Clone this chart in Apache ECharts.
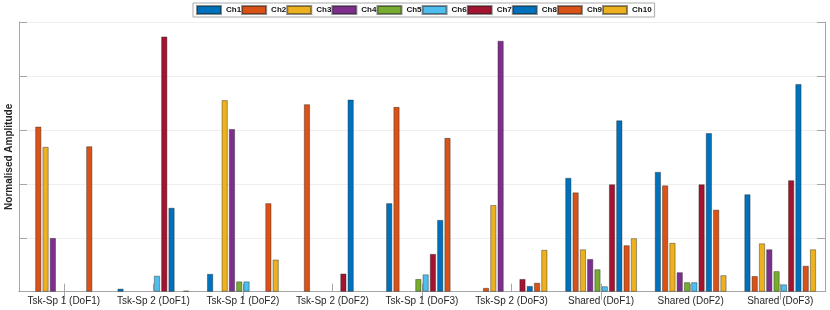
<!DOCTYPE html>
<html>
<head>
<meta charset="utf-8">
<script src="https://cdn.jsdelivr.net/npm/echarts@6/dist/echarts.min.js"></script>
<style>
html,body{margin:0;padding:0;background:#fff;}
#chart{width:830px;height:310px;}
</style>
</head>
<body>
<div id="chart"></div>
<script>
const categories = ['Tsk-Sp 1 (DoF1)','Tsk-Sp 2 (DoF1)','Tsk-Sp 1 (DoF2)','Tsk-Sp 2 (DoF2)','Tsk-Sp 1 (DoF3)','Tsk-Sp 2 (DoF3)','Shared (DoF1)','Shared (DoF2)','Shared (DoF3)'];
const seriesNames = ['Ch1','Ch2','Ch3','Ch4','Ch5','Ch6','Ch7','Ch8','Ch9','Ch10'];
const ch1  = [0,     0.011, 0.066, 0,     0.328, 0,     0.422, 0.444, 0.361];
const ch2  = [0.612, 0,     0,     0.695, 0.685, 0.014, 0.368, 0.394, 0.058];
const ch3  = [0.537, 0,     0.710, 0,     0,     0.321, 0.157, 0.181, 0.179];
const ch4  = [0.199, 0,     0.603, 0,     0,     0.930, 0.121, 0.072, 0.157];
const ch5  = [0,     0,     0.038, 0,     0.047, 0,     0.083, 0.035, 0.076];
const ch6  = [0,     0.059, 0.038, 0,     0.064, 0,     0.020, 0.035, 0.027];
const ch7  = [0,     0.946, 0,     0.067, 0.140, 0.047, 0.398, 0.398, 0.413];
const ch8  = [0,     0.311, 0,     0.712, 0.266, 0.021, 0.635, 0.588, 0.770];
const ch9  = [0.539, 0,     0.328, 0,     0.570, 0.033, 0.172, 0.304, 0.096];
const ch10 = [0,     0.004, 0.119, 0,     0,     0.155, 0.198, 0.061, 0.157];
const seriesData = [ch1,ch2,ch3,ch4,ch5,ch6,ch7,ch8,ch9,ch10];
const colors = ['#0072BD','#D95319','#EDB120','#7E2F8E','#77AC30','#4DBEEE','#A2142F','#0072BD','#D95319','#EDB120'];

const chart = echarts.init(document.getElementById('chart'), null, {renderer:'canvas'});
const axisGrey = '#a6a6a6';
const font = 'Liberation Sans, Arial, sans-serif';
const option = {
  animation: false,
  color: colors,
  grid: {left: 19, top: 22, right: 5, bottom: 18.3, containLabel: false, outerBoundsMode: 'none'},
  legend: {
    data: seriesNames,
    left: 193, top: 3,
    padding: [2,3,2,3],
    icon: 'rect',
    itemWidth: 24, itemHeight: 8, itemGap: 0,
    borderColor: '#aaaaaa', borderWidth: 1,
    textStyle: {fontSize: 8, fontWeight: 'bold', color: '#111', fontFamily: font}
  },
  xAxis: [{
    type: 'category', data: categories, position: 'bottom',
    axisLine: {show: true, lineStyle: {color: axisGrey, width: 1}},
    axisTick: {show: true, inside: true, length: 8, alignWithLabel: true, lineStyle: {color: axisGrey}},
    axisLabel: {fontSize: 10, color: '#262626', margin: 5, fontFamily: font, interval: 0}
  },{
    type: 'category', data: categories, position: 'top',
    axisLine: {show: true, lineStyle: {color: axisGrey, width: 1}},
    axisTick: {show: true, inside: true, length: 8, alignWithLabel: true, lineStyle: {color: axisGrey}},
    axisLabel: {show: false}
  }],
  yAxis: [{
    type: 'value', min: 0, max: 1, interval: 0.2, position: 'left',
    name: 'Normalised Amplitude', nameLocation: 'middle', nameGap: 5,
    nameTextStyle: {fontSize: 10, fontWeight: 'bold', color: '#262626', fontFamily: font},
    axisLine: {show: true, lineStyle: {color: axisGrey, width: 1}},
    axisTick: {show: true, inside: true, length: 8, lineStyle: {color: axisGrey}},
    axisLabel: {show: false},
    splitLine: {show: true, lineStyle: {color: '#efefef', width: 1}}
  },{
    type: 'value', min: 0, max: 1, interval: 0.2, position: 'right',
    axisLine: {show: true, lineStyle: {color: axisGrey, width: 1}},
    axisTick: {show: true, inside: true, length: 8, lineStyle: {color: axisGrey}},
    axisLabel: {show: false},
    splitLine: {show: false}
  }],
  series: seriesNames.map((n,i) => ({
    name: n, type: 'bar',
    data: seriesData[i].map(v => v === 0 ? null : v),
    xAxisIndex: 0, yAxisIndex: 0,
    barGap: '20%', barCategoryGap: '20%',
    itemStyle: {color: colors[i], borderColor: 'rgba(30,30,30,0.5)', borderWidth: 0.8}
  }))
};
chart.setOption(option);
</script>
</body>
</html>
